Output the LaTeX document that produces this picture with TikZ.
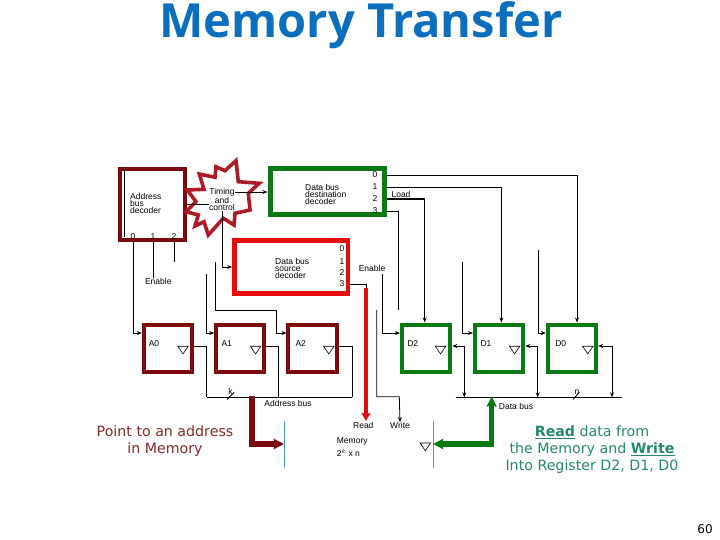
\documentclass[tikz,border=0pt]{standalone}
\usepackage{fontspec}
\setmainfont{Liberation Sans}
\newfontfamily\bodyfont{DejaVu Sans}
\newfontfamily\headfont{Open Sans}
\usepackage{xcolor}
\usetikzlibrary{
  positioning, arrows.meta, shapes.geometric, calc
}
\definecolor{mtblue}{HTML}{0B6FBE}
\definecolor{mtmaroon}{HTML}{7A0A0E}
\definecolor{mtgreen}{HTML}{0B7A12}
\definecolor{mtred}{HTML}{E60C0C}
\definecolor{mtstar}{HTML}{AE1A26}
\definecolor{mtteal}{HTML}{3F9DB4}
\definecolor{mtnote}{HTML}{24896A}
\definecolor{mtpoint}{HTML}{84282C}

\begin{document}
\begin{tikzpicture}[
  x=1pt, y=-1pt,
  reg/.style={
    rectangle, draw=#1, fill=white, line width=4pt,
    minimum width=48.3, minimum height=47, inner sep=0pt
  },
  deco/.style={rectangle, draw=#1, fill=white, inner sep=0pt},
  lbl/.style={font=\fontsize{8.5}{7}\selectfont, align=left, inner sep=0pt},
  clk/.style={
    isosceles triangle, isosceles triangle stretches, shape border rotate=-90,
    draw=black, line width=.6pt, minimum width=10.5, minimum height=7.7, inner sep=0pt
  },
  wire/.style={draw=black, line width=.8pt},
  wireto/.style={wire, -{Stealth[length=5pt,width=4pt]}},
  wireboth/.style={wire, {Stealth[length=5pt,width=4pt]}-{Stealth[length=5pt,width=4pt]}},
  bigline/.style={line width=#1},
  memside/.style={draw=mtteal, line width=.8pt},
  note/.style={font=\bodyfont\fontsize{14.2}{17}\selectfont, align=center, inner sep=0pt},
]
\useasboundingbox (0,0) rectangle (720,540);

% Title
\node[font=\headfont\bfseries\fontsize{47}{47}\selectfont, text=mtblue, inner sep=0pt, anchor=base] (title) at (361,38) {Memory Transfer};

% Decoders
\node[deco=mtmaroon, line width=4pt, minimum width=65, minimum height=71] (addrdec) at (152.5,204.5) {};
\node[deco=mtgreen, line width=5pt, minimum width=114, minimum height=46] (destdec) at (327,192) {};
\node[deco=mtred, line width=4.5pt, minimum width=113.5, minimum height=53] (srcdec) at (291.2,267) {};
\draw[wire] (124,170) -- (124,237);

\node[lbl, anchor=west] (addrtxt) at (130,203) {Address\\bus\\decoder};
\node[lbl] (addr0) at (133,237) {0};
\node[lbl] (addr1) at (153,237) {1};
\node[lbl] (addr2) at (174,237) {2};
\node[lbl, anchor=west] (desttxt) at (305,194) {Data bus\\destination\\decoder};
\node[lbl] (dest0) at (375,175) {0};
\node[lbl] (dest1) at (375,187) {1};
\node[lbl] (dest2) at (375,199) {2};
\node[lbl] (dest3) at (375,211) {3};
\node[lbl, anchor=west] (srctxt) at (275,268) {Data bus\\source\\decoder};
\node[lbl] (src0) at (342,249) {0};
\node[lbl] (src1) at (342,262) {1};
\node[lbl] (src2) at (342,273) {2};
\node[lbl] (src3) at (342,284) {3};

% Timing and control
\draw[draw=mtstar, fill=white, line width=3.6pt, line join=miter]
  (199.3,174) -- (215,177.3) -- (216,166.7) -- (225,170.7) -- (236,160.7)
  -- (238.3,181.7) -- (259.3,183.3) -- (248.3,193.3) -- (250,210) -- (235,213.3)
  -- (234,225) -- (223.3,218.3) -- (208.3,235) -- (204,221.7) -- (195,226)
  -- (198.3,215) -- (186,211.7) -- (196,201.7) -- (187.3,190) -- (204,189.3) -- cycle;
\node[lbl, align=center] (timing) at (222,199.5) {Timing\\and\\control};

% Registers
\node[reg=mtmaroon] (A0) at (168,348) {};
\node[reg=mtmaroon, right=20pt of A0] (A1) {};
\node[reg=mtmaroon, right=20pt of A1] (A2) {};
\node[reg=mtgreen, right=61.3pt of A2] (D2) {};
\node[reg=mtgreen, right=20.6pt of D2] (D1) {};
\node[reg=mtgreen, right=20.6pt of D1] (D0) {};

\foreach \r/\x in {A0/154, A1/226.7, A2/300.7, D2/412.7, D1/486, D0/560.7}
  \node[lbl] (txt\r) at (\x,344) {\r};
\foreach \r/\x in {A0/183, A1/255.6, A2/328.8, D2/440.5, D1/514.6, D0/587.8}
  \node[clk] (clk\r) at (\x,349) {};

% Free ends
\coordinate (enbA1) at (206.7,274);
\coordinate (enbA2) at (215.7,262.3);
\coordinate (bendA2) at (276.7,310.7);
\coordinate (endaddr) at (174,262);
\coordinate (enbD2) at (382.5,274);
\coordinate (enbD1) at (462.3,262);
\coordinate (enbD0) at (538.3,250);
\coordinate (enddest) at (398,310);
\coordinate (wrtop) at (376.7,310);
\coordinate (wrbend) at (399.3,396.7);
\coordinate (rdtop) at (366,288);
\coordinate (rdend) at (366,421);
\coordinate (busal) at (206.7,397.3);
\coordinate (busam) at (278.3,397.3);
\coordinate (busar) at (352.3,397.3);
\coordinate (busdl) at (455.7,397.3);
\coordinate (busdr) at (622,397.3);
\coordinate (busd2) at (464.3,397.3);
\coordinate (busd1) at (537.7,397.3);
\coordinate (busd0) at (612,397.3);
\coordinate (addrfrom) at (252,396);
\coordinate (addrto) at (284,444);
\coordinate (datato) at (491.7,396.5);
\coordinate (datafrom) at (433,444);

% Labels
\node[lbl] (lblenbl) at (158.3,281.7) {Enable};
\node[lbl] (lblenbr) at (372,268) {Enable};
\node[lbl] (lblload) at (401,194.5) {Load};
\node[lbl] (lblk) at (230.5,391) {k};
\node[lbl] (lbln) at (577,392) {n};
\node[lbl] (lblabus) at (288,403.3) {Address bus};
\node[lbl] (lbldbus) at (516,406.3) {Data bus};
\node[lbl] (lblread) at (363.3,425.5) {Read};
\node[lbl] (lblwrite) at (400,425.5) {Write};
\node[lbl, anchor=west] (lblmem) at (336.7,447) {Memory\\[2.5pt]2$^{k}$ x n};
\node[clk] (clkmem) at (425.3,445.8) {};

% Control wires
\draw[wire] (timing.west |- addrdec.east) -- (addrdec.east);
\draw[wireto] (timing.east |- destdec.west) -- (destdec.west);
\draw[wireto] (timing.south) |- (srcdec.west);
\draw[wireto] (addr0 |- addrdec.south) |- ([yshift=15pt]A0.west);
\draw[wire] (addr1 |- addrdec.south) -- (lblenbl.north -| addr1);
\draw[wire] (addr2 |- addrdec.south) -- (endaddr);
\draw[wireto] (enbA1) |- ([yshift=15pt]A1.west);
\draw[wireto] (enbA2) |- (bendA2) |- ([yshift=15pt]A2.west);
\draw[wireto] (enbD2) |- ([yshift=15pt]D2.west);
\draw[wireto] (enbD1) |- ([yshift=15pt]D1.west);
\draw[wireto] (enbD0) |- ([yshift=15pt]D0.west);
\draw[wireto] (destdec.east |- dest0) -| ([xshift=5pt]D0.north);
\draw[wireto] (destdec.east |- dest1) -| ([xshift=2.3pt]D1.north);
\draw[wireto, line width=1.1pt] (destdec.east |- dest2) -| ([xshift=-1.5pt]D2.north);
\draw[wire] (destdec.east |- dest3) -| (enddest);
\draw[wire] (srcdec.east |- src3) -| (rdtop);
\draw[wireto] (wrtop) |- (wrbend) -- (lblwrite.north);

% Address bus
\draw[wire] ([yshift=2pt]A0.east) -| (busal);
\draw[wire] ([yshift=2pt]A1.east) -| (busam);
\draw[wire] ([yshift=2pt]A2.east) -| (busar);
\draw[wire] (busal) -- (busar);
\draw[wire] (227,399.5) -- (234,392.5);

% Data bus
\draw[wire] (busdl) -- (busdr);
\draw[wireboth] ([yshift=2pt]D2.east) -| (busd2);
\draw[wireboth] ([yshift=2pt]D1.east) -| (busd1);
\draw[wireboth] ([yshift=2pt]D0.east) -| (busd0);
\draw[wire] (573,399.5) -- (579.5,392);

% Memory
\draw[memside] (284.3,421) -- (284.3,468);
\draw[memside] (433.3,421) -- (433.3,468);

% Thick arrows
\draw[draw=mtred, bigline=4.5pt, -{Stealth[length=8pt,width=9pt,inset=1pt]}] (rdtop) -- (rdend);
\draw[draw=mtmaroon, bigline=5.5pt, -{Stealth[length=10pt,width=10pt,inset=1pt]}] (addrfrom) |- (addrto);
\draw[draw=mtgreen, bigline=5.5pt, {Stealth[length=10pt,width=10pt,inset=1pt]}-{Stealth[length=10pt,width=10pt,inset=1pt]}] (datafrom) -| (datato);

% Notes
\node[note, text=mtpoint] (notept) at (165,441.5) {Point to an address\\in Memory};
\node[note, text=mtnote] (noterd) at (592,450) {\underline{\textbf{Read}} data from\\the Memory and \underline{\textbf{Write}}\\Into Register D2, D1, D0};
\node[font=\bodyfont\fontsize{12}{12}\selectfont, inner sep=0pt] (pagenum) at (705,529) {60};

\end{tikzpicture}
\end{document}
